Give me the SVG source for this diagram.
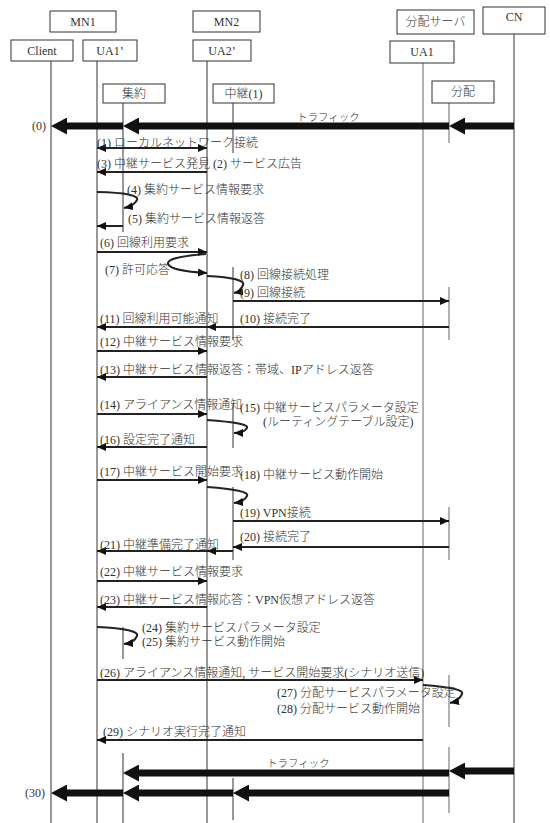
<svg xmlns="http://www.w3.org/2000/svg" width="550" height="823" viewBox="0 0 550 823">
<defs>
<style>
.box{fill:#fff;stroke:#333;stroke-width:1}
.lbl{font-family:"Liberation Serif","Noto Sans CJK JP",serif;font-size:12px;font-weight:300;fill:#333}
.bl{font-family:"Liberation Serif","Noto Sans CJK JP",serif;font-size:12px;font-weight:300;fill:#333;text-anchor:middle}
.tr{font-size:10.5px}
.life{stroke:#333;stroke-width:1;fill:none}
.life2{stroke:#666;stroke-width:1;fill:none}
.msg{stroke:#222;stroke-width:2;fill:none;marker-end:url(#ah)}
.big{stroke:#111;stroke-width:7;fill:none;marker-end:url(#bh)}
</style>
<marker id="ah" markerUnits="userSpaceOnUse" markerWidth="9" markerHeight="8" refX="9" refY="4" orient="auto-start-reverse"><path d="M0,0 L9,4 L0,8 z" fill="#111"/></marker>
<marker id="bh" markerUnits="userSpaceOnUse" markerWidth="16" markerHeight="17" refX="6" refY="8.5" orient="auto"><path d="M0,0 L16,8.5 L0,17 z" fill="#111"/></marker>
</defs>
<rect width="550" height="823" fill="#fff"/>

<g id="lifelines">
<line class="life" x1="51" y1="61" x2="51" y2="823"/>
<line class="life" x1="97" y1="61" x2="97" y2="823"/>
<line class="life" x1="207" y1="61" x2="207" y2="823"/>
<line class="life2" x1="423" y1="63" x2="423" y2="823"/>
<line class="life" x1="514" y1="34" x2="514" y2="823"/>
<line class="life" x1="123" y1="103" x2="123" y2="232"/>
<line class="life" x1="123" y1="627" x2="123" y2="659"/>
<line class="life" x1="123" y1="753" x2="123" y2="823"/>
<line class="life" x1="233" y1="103" x2="233" y2="153"/>
<line class="life" x1="233" y1="267" x2="233" y2="340"/>
<line class="life" x1="233" y1="403" x2="233" y2="448"/>
<line class="life" x1="233" y1="487" x2="233" y2="560"/>
<line class="life" x1="233" y1="778" x2="233" y2="820"/>
<line class="life2" x1="449" y1="103" x2="449" y2="143"/>
<line class="life2" x1="449" y1="287" x2="449" y2="340"/>
<line class="life2" x1="449" y1="507" x2="449" y2="560"/>
<line class="life2" x1="449" y1="675" x2="449" y2="727"/>
<line class="life2" x1="449" y1="747" x2="449" y2="813"/>
</g>

<g id="MN1"><rect class="box" x="50" y="11" width="66" height="21"/><text class="bl" x="83" y="26">MN1</text></g>
<g id="MN2"><rect class="box" x="193" y="11" width="67" height="21"/><text class="bl" x="226.5" y="26">MN2</text></g>
<g id="haibun-server"><rect class="box" x="397" y="10" width="77" height="24"/><text class="bl" x="435.5" y="26">分配サーバ</text></g>
<g id="CN"><rect class="box" x="483" y="7" width="62" height="27"/><text class="bl" x="514" y="21">CN</text></g>
<g id="Client"><rect class="box" x="11" y="40" width="62" height="21"/><text class="bl" x="42" y="55">Client</text></g>
<g id="UA1p"><rect class="box" x="83" y="40" width="54" height="21"/><text class="bl" x="110" y="55">UA1’</text></g>
<g id="UA2p"><rect class="box" x="193" y="40" width="58" height="21"/><text class="bl" x="222" y="55">UA2’</text></g>
<g id="UA1"><rect class="box" x="390" y="41" width="64" height="22"/><text class="bl" x="422" y="56">UA1</text></g>
<g id="shuyaku"><rect class="box" x="103" y="84" width="62" height="19"/><text class="bl" x="134" y="98">集約</text></g>
<g id="chukei"><rect class="box" x="213" y="84" width="61" height="19"/><text class="bl" x="243.5" y="98">中継(1)</text></g>
<g id="haibun"><rect class="box" x="432" y="81" width="62" height="22"/><text class="bl" x="463" y="96">分配</text></g>

<g id="connectors">
<line class="big" x1="514" y1="126" x2="459" y2="126"/>
<line class="big" x1="449" y1="126" x2="133" y2="126"/>
<line class="big" x1="123" y1="126" x2="61" y2="126"/>

<line class="msg" x1="97" y1="148" x2="207" y2="148" style="marker-start:url(#ah)"/>
<line class="msg" x1="207" y1="172" x2="97" y2="172"/>
<path class="msg" d="M97,192 Q140,193 137,200 Q134,206 124,208"/>
<line class="msg" x1="123" y1="226" x2="97" y2="226"/>
<line class="msg" x1="97" y1="252" x2="207" y2="252"/>
<path class="msg" d="M206,254 Q166,257 168,264 Q171,271 207,273"/>
<path class="msg" d="M207,276 Q246,278 243,285 Q240,292 234,293"/>
<line class="msg" x1="233" y1="301" x2="449" y2="301"/>
<line class="msg" x1="449" y1="327" x2="207" y2="327"/>
<line class="msg" x1="207" y1="327" x2="97" y2="327"/>
<line class="msg" x1="97" y1="351" x2="207" y2="351"/>
<line class="msg" x1="207" y1="377" x2="97" y2="377"/>
<line class="msg" x1="97" y1="414" x2="207" y2="414"/>
<path class="msg" d="M207,420 Q250,423 247,428 Q244,433 234,433"/>
<line class="msg" x1="207" y1="447" x2="97" y2="447"/>
<line class="msg" x1="97" y1="480" x2="207" y2="480"/>
<path class="msg" d="M207,487 Q250,490 247,496 Q244,502 234,503"/>
<line class="msg" x1="233" y1="521" x2="449" y2="521"/>
<line class="msg" x1="449" y1="547" x2="233" y2="547"/>
<line class="msg" x1="233" y1="551" x2="207" y2="551"/>
<line class="msg" x1="207" y1="551" x2="97" y2="551"/>
<line class="msg" x1="97" y1="581" x2="207" y2="581"/>
<line class="msg" x1="207" y1="607" x2="97" y2="607"/>
<path class="msg" d="M97,627 Q140,629 137,636 Q134,643 124,644"/>
<line class="msg" x1="97" y1="680" x2="423" y2="680"/>
<path class="msg" d="M423,685 Q465,688 462,694 Q459,701 450,703"/>
<line class="msg" x1="423" y1="740" x2="97" y2="740"/>

<line class="big" x1="514" y1="771" x2="459" y2="771"/>
<line class="big" x1="449" y1="773" x2="133" y2="773"/>
<line class="big" x1="449" y1="793" x2="243" y2="793"/>
<line class="big" x1="233" y1="793" x2="133" y2="793"/>
<line class="big" x1="123" y1="793" x2="61" y2="793"/>
</g>

<g id="labels">
<text class="lbl" x="32" y="130">(0)</text>
<text class="lbl tr" x="297" y="121">トラフィック</text>
<text class="lbl" x="97" y="147">(1) ローカルネットワーク接続</text>
<text class="lbl" x="97" y="168">(3) 中継サービス発見</text>
<text class="lbl" x="213" y="168">(2) サービス広告</text>
<text class="lbl" x="127" y="194">(4) 集約サービス情報要求</text>
<text class="lbl" x="128" y="223">(5) 集約サービス情報返答</text>
<text class="lbl" x="100" y="247">(6) 回線利用要求</text>
<text class="lbl" x="105" y="274">(7) 許可応答</text>
<text class="lbl" x="240" y="279">(8) 回線接続処理</text>
<text class="lbl" x="240" y="297">(9) 回線接続</text>
<text class="lbl" x="240" y="323">(10) 接続完了</text>
<text class="lbl" x="100" y="323">(11) 回線利用可能通知</text>
<text class="lbl" x="100" y="346">(12) 中継サービス情報要求</text>
<text class="lbl" x="100" y="374">(13) 中継サービス情報返答：帯域、IPアドレス返答</text>
<text class="lbl" x="100" y="409">(14) アライアンス情報通知</text>
<text class="lbl" x="240" y="412">(15) 中継サービスパラメータ設定</text>
<text class="lbl" x="263" y="426">(ルーティングテーブル設定)</text>
<text class="lbl" x="100" y="444">(16) 設定完了通知</text>
<text class="lbl" x="100" y="476">(17) 中継サービス開始要求</text>
<text class="lbl" x="240" y="479">(18) 中継サービス動作開始</text>
<text class="lbl" x="240" y="517">(19) VPN接続</text>
<text class="lbl" x="240" y="541">(20) 接続完了</text>
<text class="lbl" x="100" y="549">(21) 中継準備完了通知</text>
<text class="lbl" x="100" y="576">(22) 中継サービス情報要求</text>
<text class="lbl" x="100" y="604">(23) 中継サービス情報応答：VPN仮想アドレス返答</text>
<text class="lbl" x="142" y="632">(24) 集約サービスパラメータ設定</text>
<text class="lbl" x="142" y="646">(25) 集約サービス動作開始</text>
<text class="lbl" x="100" y="677">(26) アライアンス情報通知, サービス開始要求(シナリオ送信)</text>
<text class="lbl" x="277" y="697">(27) 分配サービスパラメータ設定</text>
<text class="lbl" x="277" y="713">(28) 分配サービス動作開始</text>
<text class="lbl" x="103" y="736">(29) シナリオ実行完了通知</text>
<text class="lbl tr" x="267" y="767">トラフィック</text>
<text class="lbl" x="25" y="797">(30)</text>
</g>
</svg>
